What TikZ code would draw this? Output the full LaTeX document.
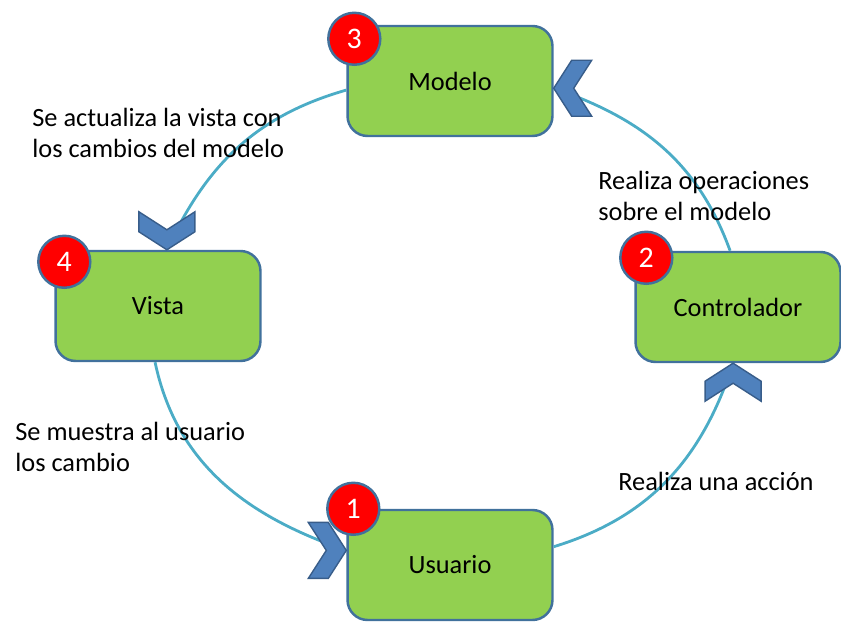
\documentclass[tikz,border=0pt]{standalone}
\usepackage{fontspec}
\setmainfont{Carlito}
\usepackage{tikz}
\usetikzlibrary{positioning, calc}

\definecolor{verde}{RGB}{146,208,80}
\definecolor{borde}{RGB}{65,113,156}
\definecolor{azul}{RGB}{79,129,189}
\definecolor{azuloscuro}{RGB}{56,93,138}
\definecolor{turquesa}{RGB}{75,172,198}

\begin{document}
\begin{tikzpicture}[
        x=0.02cm, y=0.02cm,
        caja/.style={rectangle, rounded corners=0.4cm, draw=borde, line width=1.4pt, fill=verde, minimum width=4.1cm, minimum height=2.2cm, font=\fontsize{15}{18}\selectfont},
        numero/.style={circle, draw=borde, line width=1.4pt, fill=red, text=white, minimum size=1.04cm, inner sep=0pt, font=\fontsize{17}{18}\selectfont},
        texto/.style={anchor=west, align=left, inner sep=0pt, font=\fontsize{15}{17.5}\selectfont},
        flujo/.style={draw=turquesa, line width=1.6pt},
        chevron/.pic={\filldraw[fill=azul, draw=azuloscuro, line width=0.8pt] (0,0) -- (-18,28) -- (-38,28) -- (-20,0) -- (-38,-28) -- (-18,-28) -- cycle;}
    ]
        \useasboundingbox (0,0) rectangle (841,622);

        % Cajas
        \node[caja] (m) at (450,541) {Modelo};
        \node[caja] (v) at (158,316) {Vista};
        \node[caja] (c) at (738,315) {Controlador};
        \node[caja] (u) at (450,57) {Usuario};

        % Ciclo
        \draw[flujo] (m.185) to[out=196, in=65] (v.81);
        \draw[flujo] (v.267) to[out=282, in=161] (u.172);
        \draw[flujo] (u.10) to[out=17, in=252] (c.265);
        \draw[flujo] (c.98) to[out=110, in=341] (m.356);

        % Puntas
        \pic[rotate=-90] at (v.81) {chevron};
        \pic at (u.172) {chevron};
        \pic[rotate=90] at (c.265) {chevron};
        \pic[rotate=180] at (m.356) {chevron};

        % Numeros
        \node[numero] (n1) at ($(u.north west)+(7,0)$) {1};
        \node[numero] (n2) at ($(c.north west)+(12,-7)$) {2};
        \node[numero] (n3) at ($(m.north west)+(8,-14)$) {3};
        \node[numero] (n4) at ($(v.north west)+(10,-12)$) {4};

        % Textos
        \node[texto] (t1) at (32,489) {Se actualiza la vista con\\los cambios del modelo};
        \node[texto] (t2) at (598,426) {Realiza operaciones\\sobre el modelo};
        \node[texto] (t3) at (15,175) {Se muestra al usuario\\los cambio};
        \node[texto] (t4) at (618,141) {Realiza una acción};
    \end{tikzpicture}
\end{document}
